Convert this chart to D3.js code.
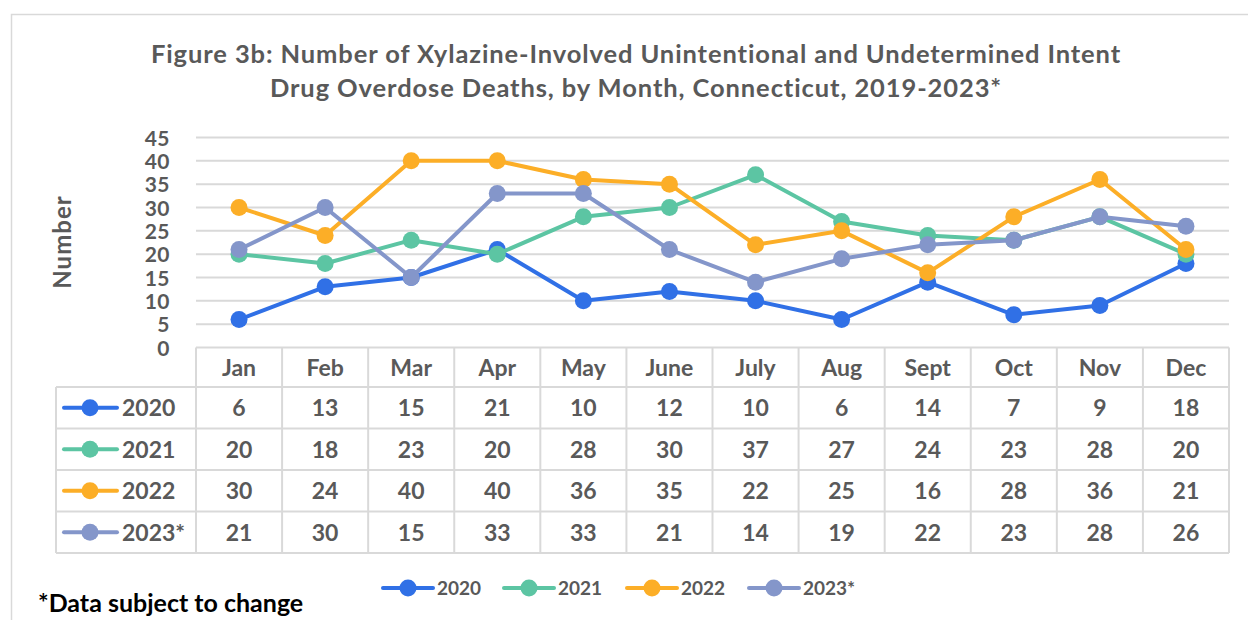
<!DOCTYPE html>
<html>
<head>
<meta charset="utf-8">
<script src="https://cdn.jsdelivr.net/npm/d3@7"></script>
<style>
	body { margin: 0; background: #fff; }
	text { font-family: Lato, "Open Sans", sans-serif; font-weight: bold; }
</style>
</head>
<body>
<div id="chart"></div>
<script>
var months = ["Jan", "Feb", "Mar", "Apr", "May", "June", "July", "Aug", "Sept", "Oct", "Nov", "Dec"];
var years = ["2020", "2021", "2022", "2023*"];
var v2020 = [6, 13, 15, 21, 10, 12, 10, 6, 14, 7, 9, 18];
var v2021 = [20, 18, 23, 20, 28, 30, 37, 27, 24, 23, 28, 20];
var v2022 = [30, 24, 40, 40, 36, 35, 22, 25, 16, 28, 36, 21];
var v2023 = [21, 30, 15, 33, 33, 21, 14, 19, 22, 23, 28, 26];
var colors = ["#3070e6", "#5cc5a3", "#fcae27", "#8496ca"];
var yTicks = [0, 5, 10, 15, 20, 25, 30, 35, 40, 45];

var series = [v2020, v2021, v2022, v2023].map(function(values, i){
	return { name: years[i], values: values, color: colors[i] };
});

var W = 1248, H = 620;
var plotLeft = 196, plotRight = 1229, plotTop = 137.5, plotBottom = 347.5;
var rowH = 41.5, headerH = 39.5, legendLeft = 56;
var textColor = "#595959", gridColor = "#d9d9d9";

var svg = d3.select("#chart").append("svg").attr("width", W).attr("height", H);

// frame
svg.append("rect")
	.attr("x", 11.5).attr("y", 14.5).attr("width", 1250).attr("height", 620)
	.attr("fill", "none").attr("stroke", gridColor).attr("stroke-width", 1.5);

// title
var title = svg.append("text").attr("text-anchor", "middle").attr("fill", textColor)
	.style("font-size", "25.5px").style("letter-spacing", "0.9px");
title.append("tspan").attr("x", 636).attr("y", 63).text("Figure 3b: Number of Xylazine-Involved Unintentional and Undetermined Intent");
title.append("tspan").attr("x", 636).attr("y", 97).text("Drug Overdose Deaths, by Month, Connecticut, 2019-2023*");

var x = d3.scaleBand().domain(months).range([plotLeft, plotRight]);
var y = d3.scaleLinear().domain([0, 45]).range([plotBottom, plotTop]);

// gridlines
svg.append("g").selectAll("line")
	.data(yTicks.slice(1))
	.enter().append("line")
		.attr("x1", plotLeft).attr("x2", plotRight)
		.attr("y1", function(d){ return y(d); }).attr("y2", function(d){ return y(d); })
		.attr("stroke", gridColor).attr("stroke-width", 2);

// y axis
var yAxis = svg.append("g")
	.attr("transform", "translate(170,0)")
	.call(d3.axisLeft(y).tickValues(yTicks).tickSize(0).tickPadding(0));
yAxis.select(".domain").remove();
yAxis.selectAll("text")
	.attr("fill", textColor)
	.style("font-size", "21px")
	.style("letter-spacing", "0.5px")
	.attr("dy", "0.36em");

svg.append("text")
	.attr("transform", "translate(71,242) rotate(-90)")
	.attr("text-anchor", "middle")
	.attr("fill", textColor)
	.style("font-size", "24px")
	.style("letter-spacing", "1px")
	.text("Number");

// lines
var line = d3.line()
	.x(function(d, i){ return x(months[i]) + x.bandwidth() / 2; })
	.y(function(d){ return y(d); });

series.forEach(function(s){
	var g = svg.append("g");
	g.append("path")
		.attr("d", line(s.values))
		.attr("fill", "none")
		.attr("stroke", s.color)
		.attr("stroke-width", 4)
		.attr("stroke-linejoin", "round");
	g.selectAll("circle")
		.data(s.values)
		.enter().append("circle")
			.attr("cx", function(d, i){ return x(months[i]) + x.bandwidth() / 2; })
			.attr("cy", function(d){ return y(d); })
			.attr("r", 8.5)
			.attr("fill", s.color);
});

// data table
var table = svg.append("g");
var tableBottom = plotBottom + headerH + rowH * years.length;
var vlines = x.domain().map(function(m){ return x(m); }).concat([plotRight]);

table.selectAll(".vline")
	.data(vlines)
	.enter().append("line")
		.attr("x1", function(d){ return d; }).attr("x2", function(d){ return d; })
		.attr("y1", plotBottom).attr("y2", tableBottom)
		.attr("stroke", gridColor).attr("stroke-width", 2);

table.append("line")
	.attr("x1", legendLeft).attr("x2", legendLeft)
	.attr("y1", plotBottom + headerH).attr("y2", tableBottom)
	.attr("stroke", gridColor).attr("stroke-width", 2);

table.append("line")
	.attr("x1", plotLeft).attr("x2", plotRight)
	.attr("y1", plotBottom).attr("y2", plotBottom)
	.attr("stroke", gridColor).attr("stroke-width", 2);

d3.range(years.length + 1).forEach(function(i){
	var yy = plotBottom + headerH + rowH * i;
	table.append("line")
		.attr("x1", legendLeft).attr("x2", plotRight)
		.attr("y1", yy).attr("y2", yy)
		.attr("stroke", gridColor).attr("stroke-width", 2);
});

table.selectAll(".month")
	.data(months)
	.enter().append("text")
		.attr("x", function(d){ return x(d) + x.bandwidth() / 2; })
		.attr("y", plotBottom + headerH / 2)
		.attr("dy", "0.36em")
		.attr("text-anchor", "middle")
		.attr("fill", textColor)
		.style("font-size", "23px")
		.text(function(d){ return d; });

series.forEach(function(s, r){
	var cy = plotBottom + headerH + rowH * r + rowH / 2;
	var row = table.append("g");
	row.append("line")
		.attr("x1", 64).attr("x2", 117).attr("y1", cy).attr("y2", cy)
		.attr("stroke", s.color).attr("stroke-width", 4).attr("stroke-linecap", "round");
	row.append("circle").attr("cx", 90).attr("cy", cy).attr("r", 8.5).attr("fill", s.color);
	row.append("text")
		.attr("x", 122).attr("y", cy).attr("dy", "0.36em")
		.attr("fill", textColor).style("font-size", "23px")
		.text(s.name);
	row.selectAll(".val")
		.data(s.values)
		.enter().append("text")
			.attr("x", function(d, i){ return x(months[i]) + x.bandwidth() / 2; })
			.attr("y", cy).attr("dy", "0.36em")
			.attr("text-anchor", "middle")
			.attr("fill", textColor)
			.style("font-size", "23px")
			.text(function(d){ return d; });
});

// legend
var legendX = [383, 504, 627, 749];
series.forEach(function(s, i){
	var g = svg.append("g").attr("transform", "translate(" + legendX[i] + ",588)");
	g.append("line")
		.attr("x1", 0).attr("x2", 50).attr("y1", 0).attr("y2", 0)
		.attr("stroke", s.color).attr("stroke-width", 4).attr("stroke-linecap", "round");
	g.append("circle").attr("cx", 25).attr("cy", 0).attr("r", 8.5).attr("fill", s.color);
	g.append("text")
		.attr("x", 54).attr("y", 0).attr("dy", "0.36em")
		.attr("fill", textColor).style("font-size", "19px")
		.text(s.name);
});

// footnote
svg.append("text")
	.attr("x", 38).attr("y", 612)
	.attr("fill", "#000")
	.style("font-size", "25px")
	.text("*Data subject to change");
</script>
</body>
</html>
